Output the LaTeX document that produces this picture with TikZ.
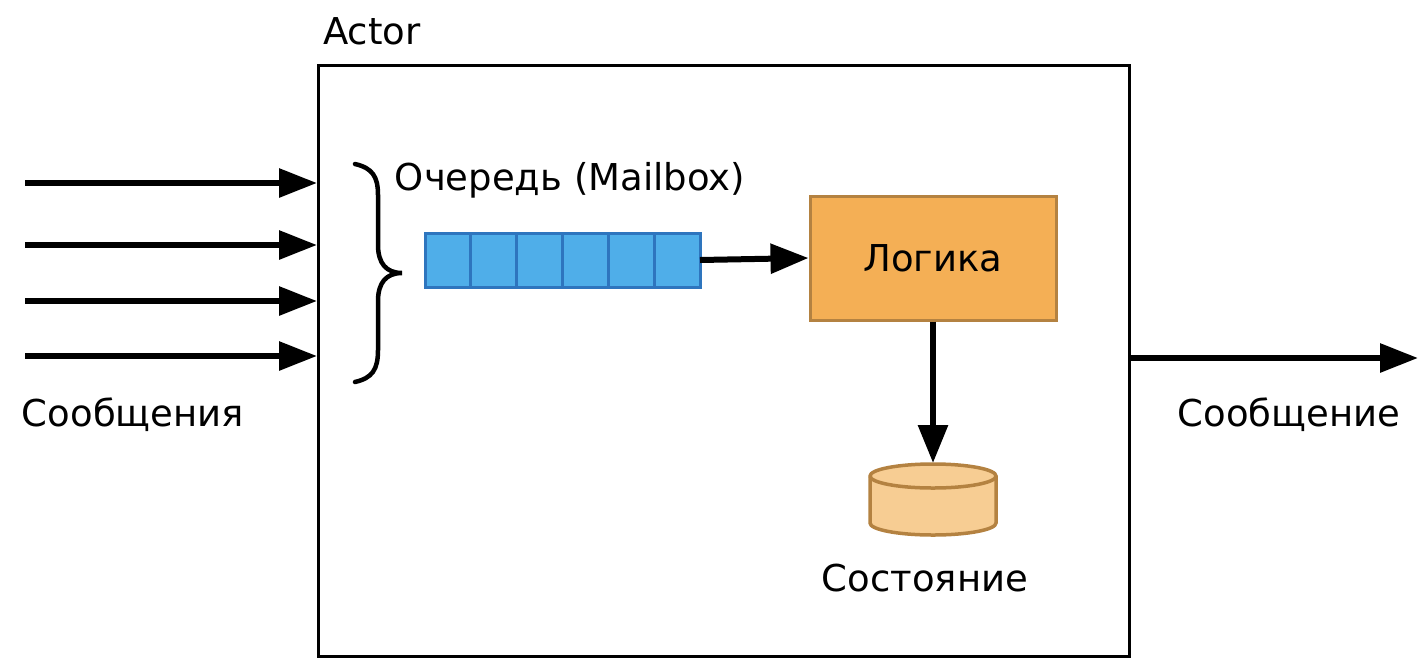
\documentclass[tikz,border=0pt]{standalone}
\usepackage{fontspec}
\setmainfont{DejaVu Sans}
\usetikzlibrary{arrows.meta}
\definecolor{qfill}{RGB}{79,174,233}
\definecolor{qdraw}{RGB}{46,117,190}
\definecolor{lfill}{RGB}{244,175,85}
\definecolor{ldraw}{RGB}{180,130,65}
\definecolor{cfill}{RGB}{247,205,147}
\tikzset{
  lbl/.style={inner sep=0pt, font=\fontsize{37}{44}\selectfont},
  bigarrow/.style={line width=6pt, -{Triangle[length=38pt,width=28pt]}},
  midarrow/.style={line width=6pt, -{Triangle[length=38pt,width=29pt]}},
  cell/.style={draw=qdraw, fill=qfill, line width=3pt, minimum width=46pt, minimum height=54pt, inner sep=0pt, outer sep=0pt},
}
\begin{document}
\begin{tikzpicture}[x=1pt,y=-1pt]
\useasboundingbox (0,0) rectangle (1426,670);
% actor box
\node[draw, line width=3pt, minimum width=811pt, minimum height=591pt, inner sep=0pt, anchor=north west] (actor) at (317,64) {};
\node[lbl, anchor=base west] (actorlbl) at (323,44) {Actor};
% input arrows
\foreach \y/\n in {183/a,245/b,301/c,356/d}{
  \coordinate (in\n) at (25,\y);
  \coordinate (ie\n) at (actor.west |- 0,\y);
  \draw[bigarrow] (in\n) -- (ie\n);
}
\node[lbl] (msgs) at (133,415) {Сообщения};
% brace
\draw[line width=4.5pt, line cap=round] (355,164) .. controls (372,168) and (378,176) .. (378,195) -- (378,245) .. controls (378,263) and (386,273) .. (402,273) .. controls (386,273) and (378,283) .. (378,301) -- (378,350) .. controls (378,370) and (372,378) .. (355,382);
\node[lbl] (qlbl) at (570,180) {Очередь (Mailbox)};
% queue
\foreach \i in {0,...,5}{
  \node[cell, anchor=west] (c\i) at (425+\i*45.8,260) {};
}
% logic
\node[draw=ldraw, fill=lfill, line width=3pt, minimum width=246pt, minimum height=124pt, inner sep=0pt, lbl] (logic) at (933,258) {Логика};
\draw[midarrow] (c5.east) -- (logic.west);
% cylinder
\coordinate (cyltop) at (933,463);
\draw[ldraw, fill=cfill, line width=3.5pt] (870,476) -- (870,523) arc[start angle=180, end angle=0, x radius=63, y radius=12] -- (996,476) arc[start angle=0, end angle=-180, x radius=63, y radius=12] -- cycle;
\draw[ldraw, line width=3.5pt] (870,476) arc[start angle=180, end angle=0, x radius=63, y radius=12];
\draw[midarrow] (logic.south) -- (cyltop);
\node[lbl] (state) at (925,578) {Состояние};
% output
\coordinate (outs) at (actor.east |- 0,358);
\coordinate (oute) at (1418,358);
\draw[bigarrow] (outs) -- (oute);
\node[lbl] (msg) at (1289,415) {Сообщение};
\end{tikzpicture}
\end{document}
